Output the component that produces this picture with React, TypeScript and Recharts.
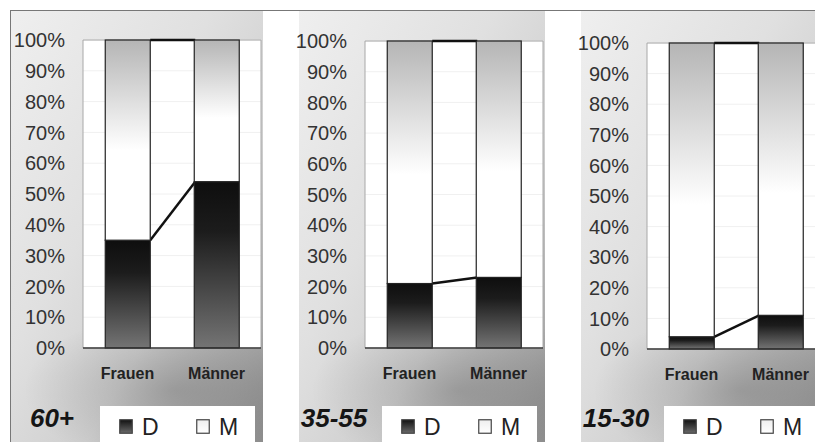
import { Bar, BarChart, CartesianGrid, XAxis, YAxis } from 'recharts';

const CATEGORIES = ['Frauen', 'Männer'];
const PANEL_TITLES = ['60+', '35-55', '15-30'];
const D_60 = [35, 54];
const M_60 = [65, 46];
const D_35_55 = [21, 23];
const M_35_55 = [79, 77];
const D_15_30 = [4, 11];
const M_15_30 = [96, 89];
const Y_TICKS = [0, 10, 20, 30, 40, 50, 60, 70, 80, 90, 100];
const LEGEND_LABELS = ['D', 'M'];

const FONT = "'Liberation Sans', Arial, sans-serif";

// page layout of the three panels
const PLOT_LEFT = [83, 365, 647];
const PLOT_TOP = [40, 41, 43];
const PLOT_BOTTOM = [348, 348, 349];
const BOX_LEFT = [11, 299, 581];
const BOX_RIGHT = [263, 545, 827];
const AXIS_W = 103;
const PLOT_W = 178;

type Row = { category: string; D: number; M: number };

function buildRows(d: number[], m: number[]): Row[] {
  return CATEGORIES.map((c, i) => ({ category: c, D: d[i], M: m[i] }));
}

const SERIES_ORDER: Array<'D' | 'M'> = ['D', 'M'];

// bar + Excel-style series line to the next category
function makeShape(rows: Row[], series: 'D' | 'M', fillId: string) {
  return (props: any) => {
    const { x, y, width, height, index } = props;
    const row = rows[index];
    const value = row[series];
    const pos = SERIES_ORDER.indexOf(series);
    const below = SERIES_ORDER.slice(0, pos).reduce((s, k) => s + row[k], 0);
    const unit = value > 0 ? height / value : 0;
    const zero = y + height + below * unit;
    const next = rows[index + 1];
    let line = null;
    if (next) {
      const cum = SERIES_ORDER.slice(0, pos + 1).reduce((s, k) => s + next[k], 0);
      const ny = zero - cum * unit;
      // with barCategoryGap 25% the gap between bars equals the bar width
      line = <line x1={x + width} y1={y} x2={x + 2 * width} y2={ny} stroke="#111" strokeWidth={2.5} />;
    }
    return (
      <g>
        <rect x={x} y={y} width={width} height={height} fill={`url(#${fillId})`} stroke="#222" strokeWidth={1.2} />
        {line}
      </g>
    );
  };
}

function PanelBox({ idx }: { idx: number }) {
  return (
    <div
      style={{
        position: 'absolute',
        left: BOX_LEFT[idx],
        top: 11,
        width: BOX_RIGHT[idx] - BOX_LEFT[idx],
        height: 431,
        background:
          'radial-gradient(ellipse 60% 18% at 65% 88%, rgba(0,0,0,0.18), rgba(0,0,0,0) 100%), ' +
          'linear-gradient(to bottom right, #efefef 0%, #e0e0e0 40%, #cfcfcf 65%, #a8a8a8 88%, #909090 100%)',
      }}
    />
  );
}

function PanelChart({ idx, d, m }: { idx: number; d: number[]; m: number[] }) {
  const rows = buildRows(d, m);
  const top = PLOT_TOP[idx];
  const plotH = PLOT_BOTTOM[idx] - PLOT_TOP[idx];
  const dId = `gradD${idx}`;
  const mId = `gradM${idx}`;
  const width = AXIS_W + PLOT_W + 1;
  return (
    <div style={{ position: 'absolute', left: PLOT_LEFT[idx] - AXIS_W, top: 0 }}>
      <BarChart
        width={width}
        height={top + plotH + 60}
        data={rows}
        margin={{ top, right: 1, left: 0, bottom: 0 }}
        barCategoryGap="25%"
        style={{ fontFamily: FONT }}
      >
        <defs>
          <linearGradient id={dId} x1="0" y1="0" x2="0" y2="1">
            <stop offset="0" stopColor="#0e0e0e" />
            <stop offset="0.3" stopColor="#1c1c1c" />
            <stop offset="1" stopColor="#747474" />
          </linearGradient>
          <linearGradient id={mId} x1="0" y1="0" x2="0" y2="1">
            <stop offset="0" stopColor="#b5b5b5" />
            <stop offset="0.55" stopColor="#ffffff" />
            <stop offset="1" stopColor="#ffffff" />
          </linearGradient>
        </defs>
        <CartesianGrid vertical={false} stroke="#f0f0f0" fill="#ffffff" />
        <CartesianGrid
          stroke="#a8a8a8"
          verticalCoordinatesGenerator={({ offset }: any) => [offset.left, offset.left + offset.width]}
          horizontalCoordinatesGenerator={({ offset }: any) => [offset.top]}
        />
        <XAxis
          dataKey="category"
          axisLine={{ stroke: '#333', strokeWidth: 1.5 }}
          tickLine={false}
          tickSize={0}
          tickMargin={20}
          height={60}
          tick={{ fill: '#222', fontSize: 16, fontWeight: 'bold', fontFamily: FONT }}
        />
        <YAxis
          width={AXIS_W}
          domain={[0, 100]}
          ticks={Y_TICKS}
          interval={0}
          tickFormatter={(v: number) => `${v}%`}
          axisLine={false}
          tickLine={false}
          tickSize={0}
          tickMargin={18}
          tick={{ fill: '#333', fontSize: 20, fontFamily: FONT }}
        />
        <Bar dataKey="D" stackId="a" isAnimationActive={false} shape={makeShape(rows, 'D', dId)} />
        <Bar dataKey="M" stackId="a" isAnimationActive={false} shape={makeShape(rows, 'M', mId)} />
      </BarChart>
    </div>
  );
}

function PanelLegend({ idx }: { idx: number }) {
  const left = PLOT_LEFT[idx];
  return (
    <>
      <div
        style={{
          position: 'absolute',
          left: left - 31 - 40,
          width: 80,
          top: 405,
          lineHeight: '26px',
          textAlign: 'center',
          fontFamily: FONT,
          fontWeight: 'bold',
          fontStyle: 'italic',
          fontSize: 26,
          color: '#151515',
        }}
      >
        {PANEL_TITLES[idx]}
      </div>
      <div
        style={{
          position: 'absolute',
          left: left + 17,
          top: 406,
          width: 155,
          height: 40,
          background: '#fff',
          fontFamily: FONT,
          fontSize: 23,
          lineHeight: '23px',
          color: '#222',
        }}
      >
        {LEGEND_LABELS.map((lab, i) => (
          <div key={lab}>
            <svg
              width={14}
              height={15}
              style={{ position: 'absolute', left: 19 + i * 77, top: 13 }}
            >
              <defs>
                <linearGradient id={`leg${idx}${lab}`} x1="0" y1="0" x2="0" y2="1">
                  <stop offset="0" stopColor={i === 0 ? '#111' : '#eeeeee'} />
                  <stop offset="1" stopColor={i === 0 ? '#6a6a6a' : '#ffffff'} />
                </linearGradient>
              </defs>
              <rect x={0.75} y={0.75} width={12.5} height={13.5} fill={`url(#leg${idx}${lab})`} stroke="#444" strokeWidth={1.2} />
            </svg>
            <span style={{ position: 'absolute', left: 42 + i * 77, top: 10 }}>{lab}</span>
          </div>
        ))}
      </div>
    </>
  );
}

export default function App() {
  const d = [D_60, D_35_55, D_15_30];
  const m = [M_60, M_35_55, M_15_30];
  return (
    <div style={{ position: 'absolute', left: 0, top: 0, width: 815, height: 442, background: '#fff', overflow: 'hidden' }}>
      {[0, 1, 2].map((i) => (
        <PanelBox key={i} idx={i} />
      ))}
      {[0, 1, 2].map((i) => (
        <PanelChart key={i} idx={i} d={d[i]} m={m[i]} />
      ))}
      {[0, 1, 2].map((i) => (
        <PanelLegend key={i} idx={i} />
      ))}
      <div style={{ position: 'absolute', left: 10, top: 9.5, width: 810, height: 1.5, background: '#777' }} />
      <div style={{ position: 'absolute', left: 9.5, top: 10, width: 1.5, height: 440, background: '#777' }} />
    </div>
  );
}
